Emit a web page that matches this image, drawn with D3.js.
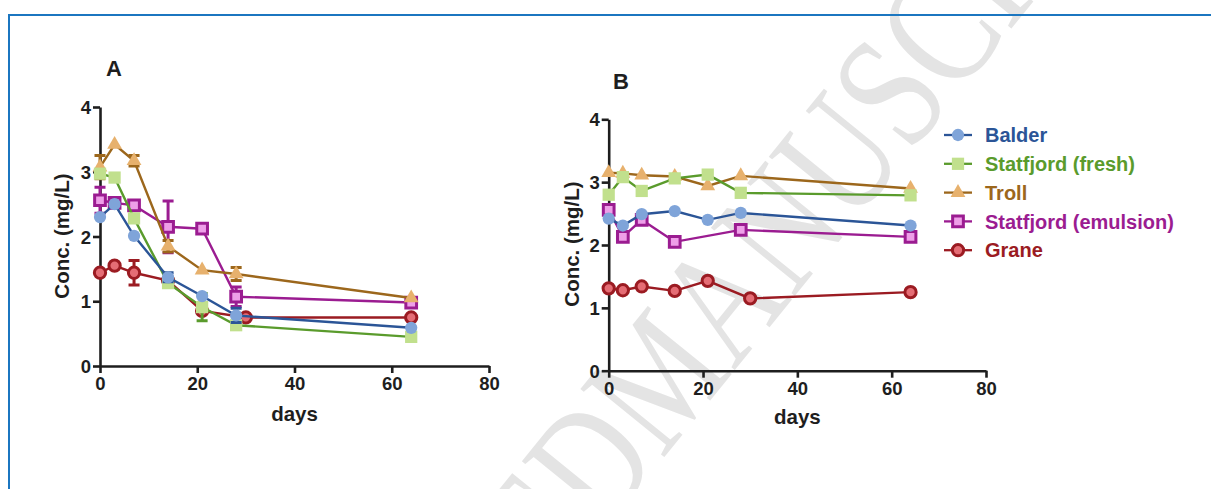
<!DOCTYPE html>
<html>
<head>
<meta charset="utf-8">
<script src="https://cdn.jsdelivr.net/npm/d3@7"></script>
<style>
  body { margin: 0; background: #fff; }
  svg { display: block; font-family: "Liberation Sans", Arial, sans-serif; }
</style>
</head>
<body>
<div id="chart"></div>
<script>
// ── Oil concentration over time, panels A and B ──
const seriesNames = ["Balder", "Statfjord (fresh)", "Troll", "Statfjord (emulsion)", "Grane"];
const xTicks = [0, 20, 40, 60, 80];
const yTicks = [0, 1, 2, 3, 4];

const daysStd   = [0, 3, 7, 14, 21, 28, 64];
const daysGrane = [0, 3, 7, 14, 21, 30, 64];
const daysEmulB = [0, 3, 7, 14, 28, 64];

// Panel A (mean and error)
const aBalder = [2.30, 2.50, 2.01, 1.37, 1.08, 0.78, 0.59];
const aFresh  = [2.97, 2.91, 2.28, 1.28, 0.91, 0.63, 0.45];
const aTroll  = [3.07, 3.42, 3.17, 1.85, 1.48, 1.42, 1.05];
const aEmul   = [2.56, 2.52, 2.48, 2.15, 2.12, 1.07, 0.98];
const aGrane  = [1.44, 1.55, 1.44, 1.32, 0.85, 0.75, 0.75];
const aBalderErr = [0, 0, 0, 0.07, 0, 0.11, 0];
const aFreshErr  = [0, 0, 0, 0, 0.21, 0, 0];
const aTrollErr  = [0.18, 0, 0.08, 0.09, 0, 0.10, 0];
const aEmulErr   = [0.20, 0, 0.06, 0.40, 0, 0.15, 0.07];
const aGraneErr  = [0, 0, 0.19, 0, 0, 0, 0];

// Panel B
const bBalder = [2.42, 2.31, 2.49, 2.54, 2.40, 2.51, 2.31];
const bFresh  = [2.80, 3.08, 2.86, 3.06, 3.12, 2.83, 2.79];
const bTroll  = [3.15, 3.14, 3.11, 3.09, 2.94, 3.10, 2.90];
const bEmul   = [2.56, 2.13, 2.40, 2.05, 2.24, 2.13];
const bGrane  = [1.31, 1.28, 1.34, 1.27, 1.43, 1.15, 1.25];

const styles = {
  "Balder":               { line: "#2b5597", fill: "#7fa4d9", stroke: "none",    sym: d3.symbolCircle,   size: 118 },
  "Statfjord (fresh)":    { line: "#5a9b2c", fill: "#c1e08d", stroke: "none",    sym: d3.symbolSquare,   size: 150 },
  "Troll":                { line: "#9c671c", fill: "#e7b16d", stroke: "none",    sym: d3.symbolTriangle, size: 95 },
  "Statfjord (emulsion)": { line: "#9b1c91", fill: "#ee9fe8", stroke: "#9b1c91", sym: d3.symbolSquare,   size: 115 },
  "Grane":                { line: "#9b1b22", fill: "#e56d75", stroke: "#9b1b22", sym: d3.symbolCircle,   size: 100 }
};

function toPts(days, vals, errs) {
  return days.map((d, i) => ({ x: d, y: vals[i], e: errs ? errs[i] : 0 }));
}

const panelA = [
  { name: "Grane",                pts: toPts(daysGrane, aGrane, aGraneErr) },
  { name: "Statfjord (emulsion)", pts: toPts(daysStd, aEmul, aEmulErr) },
  { name: "Troll",                pts: toPts(daysStd, aTroll, aTrollErr) },
  { name: "Statfjord (fresh)",    pts: toPts(daysStd, aFresh, aFreshErr) },
  { name: "Balder",               pts: toPts(daysStd, aBalder, aBalderErr) }
];
const panelB = [
  { name: "Grane",                pts: toPts(daysGrane, bGrane) },
  { name: "Statfjord (emulsion)", pts: toPts(daysEmulB, bEmul) },
  { name: "Troll",                pts: toPts(daysStd, bTroll) },
  { name: "Statfjord (fresh)",    pts: toPts(daysStd, bFresh) },
  { name: "Balder",               pts: toPts(daysStd, bBalder) }
];

const W = 1211, H = 489;
const svg = d3.select("#chart").append("svg").attr("width", W).attr("height", H);

// watermark
const wm = svg.append("g").attr("transform", "translate(662,460) rotate(-51) scale(0.78,1)")
  .style("font-family", "'Liberation Serif', 'DejaVu Serif', serif")
  .style("font-size", "165px").style("fill", "#e4e4e4");
wm.append("text").attr("text-anchor", "end").text("ACCEPTED ");
wm.append("text").attr("text-anchor", "start").text("MANUSCRIPT");

// frame
svg.append("path").attr("d", `M9,${H} V15 H${W}`)
  .attr("fill", "none").attr("stroke", "#1b76c0").attr("stroke-width", 2);

function drawPanel(data, xr, yr, label, labelPos, yTitlePos, xTitleY) {
  const x = d3.scaleLinear().domain([0, 80]).range(xr);
  const y = d3.scaleLinear().domain([0, 4]).range(yr);
  const g = svg.append("g");

  const gx = g.append("g").attr("transform", `translate(0,${yr[0]})`)
    .call(d3.axisBottom(x).tickValues(xTicks).tickFormat(d3.format("d"))
      .tickSize(7).tickSizeOuter(0).tickPadding(4));
  const gy = g.append("g").attr("transform", `translate(${xr[0]},0)`)
    .call(d3.axisLeft(y).tickValues(yTicks).tickFormat(d3.format("d"))
      .tickSize(7).tickSizeOuter(0).tickPadding(2));
  [gx, gy].forEach(a => {
    a.select(".domain").attr("stroke", "#1e1e1e").attr("stroke-width", 2.6);
    a.selectAll(".tick line").attr("stroke", "#1e1e1e").attr("stroke-width", 2.6);
    a.selectAll("text").style("font-size", "18.5px").style("font-weight", "bold")
      .style("fill", "#1e1e1e").style("font-family", "'Liberation Sans', Arial, sans-serif");
  });
  gy.selectAll("text").attr("dy", "0.36em");

  const line = d3.line().x(d => x(d.x)).y(d => y(d.y));
  data.forEach(s => {
    const st = styles[s.name];
    const sg = g.append("g");
    sg.append("path").datum(s.pts).attr("d", line)
      .attr("fill", "none").attr("stroke", st.line).attr("stroke-width", 2.4);
    const eb = s.pts.filter(p => p.e > 0);
    sg.selectAll("path.err").data(eb).join("path").attr("class", "err")
      .attr("d", p => `M${x(p.x)},${y(p.y - p.e)}V${y(p.y + p.e)}` +
        `M${x(p.x) - 5.5},${y(p.y - p.e)}h11M${x(p.x) - 5.5},${y(p.y + p.e)}h11`)
      .attr("fill", "none").attr("stroke", st.line).attr("stroke-width", 3);
    sg.selectAll("path.mk").data(s.pts).join("path").attr("class", "mk")
      .attr("transform", p => `translate(${x(p.x)},${y(p.y)})`)
      .attr("d", d3.symbol().type(st.sym).size(st.size))
      .attr("fill", st.fill).attr("stroke", st.stroke).attr("stroke-width", 3);
  });

  const tf = "'Liberation Sans', Arial, sans-serif";
  g.append("text").attr("x", labelPos[0]).attr("y", labelPos[1])
    .style("font-size", "22px").style("font-weight", "bold").style("font-family", tf)
    .style("fill", "#1e1e1e").text(label);
  g.append("text").attr("transform", `translate(${yTitlePos[0]},${yTitlePos[1]}) rotate(-90)`)
    .attr("text-anchor", "middle").attr("dy", "0.36em")
    .style("font-size", "20.5px").style("font-weight", "bold").style("font-family", tf)
    .style("fill", "#1e1e1e").text("Conc. (mg/L)");
  g.append("text").attr("x", (xr[0] + xr[1]) / 2).attr("y", xTitleY)
    .attr("text-anchor", "middle")
    .style("font-size", "20.5px").style("font-weight", "bold").style("font-family", tf)
    .style("fill", "#1e1e1e").text("days");
}

drawPanel(panelA, [100, 489], [366, 107], "A", [106, 76], [62, 236], 421);
drawPanel(panelB, [608.7, 986], [370.7, 119.3], "B", [613, 89], [572, 244], 424);

// legend
const leg = svg.append("g").attr("transform", "translate(944,135)");
seriesNames.forEach((n, i) => {
  const st = styles[n];
  const row = leg.append("g").attr("transform", `translate(0,${i * 28.8})`);
  row.append("line").attr("x1", 0).attr("x2", 28).attr("y1", 0).attr("y2", 0)
    .attr("stroke", st.line).attr("stroke-width", 2.3);
  row.append("path").attr("transform", "translate(14,0)")
    .attr("d", d3.symbol().type(st.sym).size(st.size))
    .attr("fill", st.fill).attr("stroke", st.stroke).attr("stroke-width", 3);
  row.append("text").attr("x", 41).attr("dy", "0.36em")
    .style("font-size", "20px").style("font-weight", "bold")
    .style("font-family", "'Liberation Sans', Arial, sans-serif")
    .style("fill", st.line).text(n);
});
</script>
</body>
</html>
